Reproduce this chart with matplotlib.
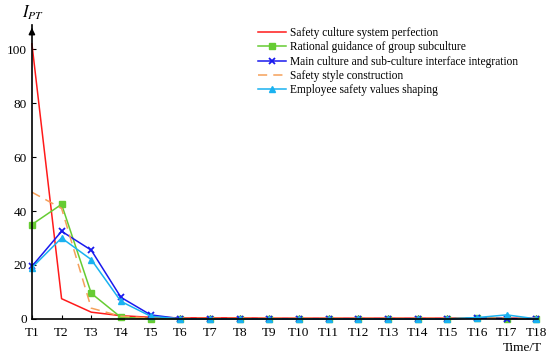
import matplotlib
matplotlib.use("Agg")
import matplotlib.pyplot as plt

plt.rcParams['font.family'] = ['Liberation Serif', 'DejaVu Serif']

periods = [f"T{i}" for i in range(1, 19)]
series_names = [
    "Safety culture system perfection",
    "Rational guidance of group subculture",
    "Main culture and sub-culture interface integration",
    "Safety style construction",
    "Employee safety values shaping",
]
safety_system = [102, 7.5, 2.5, 1.2, 0.6, 0.4, 0.4, 0.4, 0.3, 0.3, 0.3, 0.3, 0.3, 0.3, 0.3, 0.3, 0.3, 0.2]
group_subculture = [35, 42.5, 9.5, 0.6, 0.1, 0, 0, 0, 0, 0, 0, 0, 0, 0, 0, 0.5, 0.1, 0]
interface_integration = [19.5, 32.5, 25.5, 8, 1.5, 0.1, 0, 0, 0, 0, 0, 0, 0, 0, 0, 0.3, 0.1, 0.1]
style_construction = [47, 41, 4, 1, 0.3, 0.2, 0.2, 0.2, 0.2, 0.2, 0.2, 0.2, 0.2, 0.2, 0.2, 0.3, 0.3, 0.3]
values_shaping = [19, 30, 22, 6.5, 1, 0, 0, 0, 0, 0, 0, 0, 0, 0, 0, 0.5, 1.5, 0]

fig = plt.figure(figsize=(5.5, 3.62), dpi=100)
ax = fig.add_axes([0.058, 0.119, 0.92, 0.812])
x = list(range(len(periods)))

ax.plot(x, safety_system, color='#ff1a1a', lw=1.1, label=series_names[0])
ax.plot(x, group_subculture, color='#66cc33', lw=1.1, marker='s', ms=5, label=series_names[1])
ax.plot(x, interface_integration, color='#1a1aee', lw=1.1, marker='x', ms=5, mew=1.3, label=series_names[2])
ax.plot(x, style_construction, color='#f5a05a', lw=1.1, ls=(0, (6, 4)), label=series_names[3])
ax.plot(x, values_shaping, color='#1ab2f0', lw=1.1, marker='^', ms=5, label=series_names[4])

ax.set_xlim(0, len(periods) - 1 + 0.05)
ax.set_ylim(0, 109)
ax.set_xticks(x)
ax.set_xticklabels(periods, fontsize=9.5)
ax.set_yticks([0, 20, 40, 60, 80, 100])
ax.tick_params(axis='both', direction='in', length=3, labelsize=9.5, width=0.8)
ax.tick_params(axis='x', pad=6)
for s in ['top', 'right']:
    ax.spines[s].set_visible(False)
for s in ['left', 'bottom']:
    ax.spines[s].set_linewidth(1.2)
for ln in ax.lines:
    ln.set_clip_on(False)

# arrow on y axis
ax.annotate('', xy=(0, 1.0), xytext=(0, 0.97), xycoords='axes fraction',
            arrowprops=dict(arrowstyle='-|>', color='black', lw=1.2, mutation_scale=9))

fig.text(0.04, 0.965, r'$I_{PT}$', fontsize=12, ha='left', va='center',
         math_fontfamily='stix')
fig.text(0.985, 0.04, 'Time/T', fontsize=9.5, ha='right', va='center')

leg = ax.legend(loc='upper left', bbox_to_anchor=(0.43, 1.02), frameon=False,
                fontsize=8.3, handlelength=2.5, handletextpad=0.3, labelspacing=0.2,
                borderpad=0.2)

fig.savefig('out.png', dpi=100)
